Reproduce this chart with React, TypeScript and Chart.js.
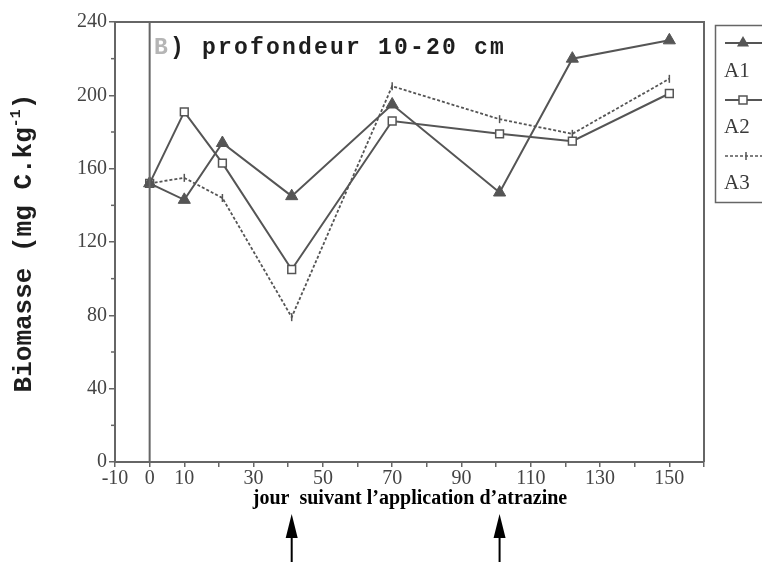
import React, { useEffect, useRef } from 'react';
import { Chart, registerables } from 'chart.js';

Chart.register(...registerables);

// ---- data ----
const days = [0, 10, 21, 41, 70, 101, 122, 150];
const a1 = [152, 143, 174, 145, 195, 147, 220, 230];
const a2 = [152, 191, 163, 105, 186, 179, 175, 201];
const a3 = [152, 155, 144, 79, 205, 187, 179, 209];
const seriesNames = ['A1', 'A2', 'A3'];
const xTickLabels = [-10, 0, 10, 30, 50, 70, 90, 110, 130, 150];
const yTickLabels = [0, 40, 80, 120, 160, 200, 240];
const applicationDays = [41, 101];
const titlePrefix = 'B';
const titleRest = ') profondeur 10-20 cm';
const yTitleMain = 'Biomasse (mg C.kg';
const yTitleSup = '-1';
const yTitleEnd = ')';
const xTitle = 'jour  suivant l\u2019application d\u2019atrazine';

const LINE = '#555555';
const AXIS = '#666666';

function drawMarker(ctx: CanvasRenderingContext2D, kind: number, x: number, y: number) {
  ctx.save();
  ctx.strokeStyle = LINE;
  ctx.fillStyle = LINE;
  if (kind === 0) {
    const r = 7;
    ctx.beginPath();
    ctx.moveTo(x, y - r);
    ctx.lineTo(x + r * 0.866, y + r * 0.5);
    ctx.lineTo(x - r * 0.866, y + r * 0.5);
    ctx.closePath();
    ctx.fill();
  } else if (kind === 1) {
    ctx.fillStyle = '#fff';
    ctx.lineWidth = 1.5;
    ctx.fillRect(x - 4, y - 4, 8, 8);
    ctx.strokeRect(x - 4, y - 4, 8, 8);
  } else {
    ctx.lineWidth = 1.5;
    ctx.beginPath();
    ctx.moveTo(x, y - 4);
    ctx.lineTo(x, y + 4);
    ctx.stroke();
  }
  ctx.restore();
}

const decorPlugin = {
  id: 'decor',
  afterDraw(chart: any) {
    const ctx: CanvasRenderingContext2D = chart.ctx;
    const area = chart.chartArea;
    const xs = chart.scales.x;
    const ys = chart.scales.y;
    ctx.save();

    // frame (top/right)
    ctx.strokeStyle = AXIS;
    ctx.lineWidth = 2;
    ctx.beginPath();
    ctx.moveTo(area.left, area.top);
    ctx.lineTo(area.right, area.top);
    ctx.lineTo(area.right, area.bottom);
    ctx.stroke();

    // minor y ticks (shorter)
    ctx.lineWidth = 1.5;
    for (let v = 20; v < 240; v += 40) {
      const py = ys.getPixelForValue(v);
      ctx.beginPath();
      ctx.moveTo(area.left - 4, py);
      ctx.lineTo(area.left, py);
      ctx.stroke();
    }

    // vertical line at day 0
    const x0 = xs.getPixelForValue(0);
    ctx.lineWidth = 2;
    ctx.beginPath();
    ctx.moveTo(x0, area.top);
    ctx.lineTo(x0, area.bottom);
    ctx.stroke();

    // title
    ctx.font = 'bold 23px "Liberation Mono", "DejaVu Sans Mono", monospace';
    (ctx as any).letterSpacing = '2.2px';
    ctx.textBaseline = 'alphabetic';
    ctx.textAlign = 'left';
    ctx.fillStyle = '#b5b5b5';
    ctx.fillText(titlePrefix, area.left + 39, 54);
    const wB = ctx.measureText(titlePrefix).width;
    ctx.fillStyle = '#1e1e1e';
    ctx.fillText(titleRest, area.left + 39 + wB, 54);
    (ctx as any).letterSpacing = '0px';

    // y title
    ctx.save();
    ctx.translate(24, 243);
    ctx.rotate(-Math.PI / 2);
    ctx.fillStyle = '#1e1e1e';
    ctx.textBaseline = 'middle';
    const mainFont = 'bold 26px "Liberation Mono", "DejaVu Sans Mono", monospace';
    const supFont = 'bold 15px "Liberation Mono", "DejaVu Sans Mono", monospace';
    ctx.font = mainFont;
    const w1 = ctx.measureText(yTitleMain).width;
    const w3 = ctx.measureText(yTitleEnd).width;
    ctx.font = supFont;
    const w2 = ctx.measureText(yTitleSup).width;
    let sx = -(w1 + w2 + w3) / 2;
    ctx.font = mainFont;
    ctx.fillText(yTitleMain, sx, 0);
    sx += w1;
    ctx.font = supFont;
    ctx.fillText(yTitleSup, sx, -8);
    sx += w2;
    ctx.font = mainFont;
    ctx.fillText(yTitleEnd, sx, 0);
    ctx.restore();

    // x title
    ctx.font = 'bold 20px "Liberation Serif", "Times New Roman", serif';
    ctx.fillStyle = '#000';
    ctx.textAlign = 'center';
    ctx.textBaseline = 'middle';
    ctx.fillText(xTitle, 410, 499);

    // arrows at application days
    ctx.fillStyle = '#000';
    ctx.strokeStyle = '#000';
    for (const d of applicationDays) {
      const ax = xs.getPixelForValue(d);
      ctx.beginPath();
      ctx.moveTo(ax, 514);
      ctx.lineTo(ax + 6, 538);
      ctx.lineTo(ax - 6, 538);
      ctx.closePath();
      ctx.fill();
      ctx.lineWidth = 2;
      ctx.beginPath();
      ctx.moveTo(ax, 536);
      ctx.lineTo(ax, 562);
      ctx.stroke();
    }

    // legend
    ctx.strokeStyle = AXIS;
    ctx.lineWidth = 1.5;
    ctx.strokeRect(715.5, 25.5, 120, 177);
    const lineYs = [43, 100, 156];
    const textYs = [71, 127, 183];
    for (let i = 0; i < 3; i++) {
      ctx.strokeStyle = LINE;
      ctx.lineWidth = i === 2 ? 1.6 : 2;
      ctx.setLineDash(i === 2 ? [3, 2] : []);
      ctx.beginPath();
      ctx.moveTo(725, lineYs[i]);
      ctx.lineTo(775, lineYs[i]);
      ctx.stroke();
      ctx.setLineDash([]);
      drawMarker(ctx, i, i === 2 ? 746 : 743, lineYs[i]);
      ctx.font = '21px "Liberation Serif", "Times New Roman", serif';
      ctx.fillStyle = '#3a3a3a';
      ctx.textAlign = 'left';
      ctx.textBaseline = 'middle';
      ctx.fillText(seriesNames[i], 724, textYs[i]);
    }

    ctx.restore();
  },
};

export default function App() {
  const ref = useRef<HTMLCanvasElement | null>(null);

  useEffect(() => {
    if (!ref.current) return;
    const toPts = (vals: number[]) => days.map((d, i) => ({ x: d, y: vals[i] }));
    const chart = new Chart(ref.current, {
      type: 'line',
      data: {
        datasets: [
          {
            label: seriesNames[0],
            data: toPts(a1),
            borderColor: LINE,
            backgroundColor: LINE,
            borderWidth: 2,
            pointStyle: 'triangle',
            pointRadius: 7,
            pointBackgroundColor: LINE,
            pointBorderColor: LINE,
            pointBorderWidth: 1,
          },
          {
            label: seriesNames[1],
            data: toPts(a2),
            borderColor: LINE,
            backgroundColor: '#fff',
            borderWidth: 2,
            pointStyle: 'rect',
            pointRadius: 5.5,
            pointBackgroundColor: '#fff',
            pointBorderColor: LINE,
            pointBorderWidth: 1.5,
          },
          {
            label: seriesNames[2],
            data: toPts(a3),
            borderColor: LINE,
            backgroundColor: LINE,
            borderWidth: 1.8,
            borderDash: [3, 2],
            pointStyle: 'line',
            pointRotation: 90,
            pointRadius: 4,
            pointBorderColor: LINE,
            pointBorderWidth: 1.5,
          },
        ],
      },
      options: {
        animation: false,
        responsive: false,
        events: [],
        layout: { padding: { left: 0, right: 58, top: 22, bottom: 0 }, autoPadding: false },
        plugins: { legend: { display: false }, tooltip: { enabled: false }, title: { display: false } },
        elements: { line: { tension: 0 } },
        scales: {
          x: {
            type: 'linear',
            min: -10,
            max: 160,
            afterFit: (s: any) => { s.height = 105; },
            ticks: {
              stepSize: 10,
              autoSkip: false,
              maxRotation: 0,
              padding: 0,
              color: '#444',
              font: { family: '"Liberation Serif", "Times New Roman", serif', size: 20 },
              callback: (v: any) => (xTickLabels.includes(Number(v)) ? String(v) : ''),
            },
            grid: { drawOnChartArea: false, drawTicks: true, tickLength: 5, color: AXIS, lineWidth: 1.5 },
            border: { color: AXIS, width: 2 },
          },
          y: {
            type: 'linear',
            min: 0,
            max: 240,
            afterFit: (s: any) => { s.width = 115; },
            ticks: {
              stepSize: 40,
              autoSkip: false,
              padding: 2,
              color: '#444',
              font: { family: '"Liberation Serif", "Times New Roman", serif', size: 20 },
              callback: (v: any) => (yTickLabels.includes(Number(v)) ? String(v) : ''),
            },
            grid: { drawOnChartArea: false, drawTicks: true, tickLength: 6, color: AXIS, lineWidth: 1.5 },
            border: { color: AXIS, width: 2 },
          },
        },
      },
      plugins: [decorPlugin],
    });
    return () => chart.destroy();
  }, []);

  return (
    <div style={{ position: 'fixed', left: 0, top: 0, width: 762, height: 567, background: '#fff' }}>
      <canvas ref={ref} width={762} height={567} style={{ display: 'block' }} />
    </div>
  );
}
